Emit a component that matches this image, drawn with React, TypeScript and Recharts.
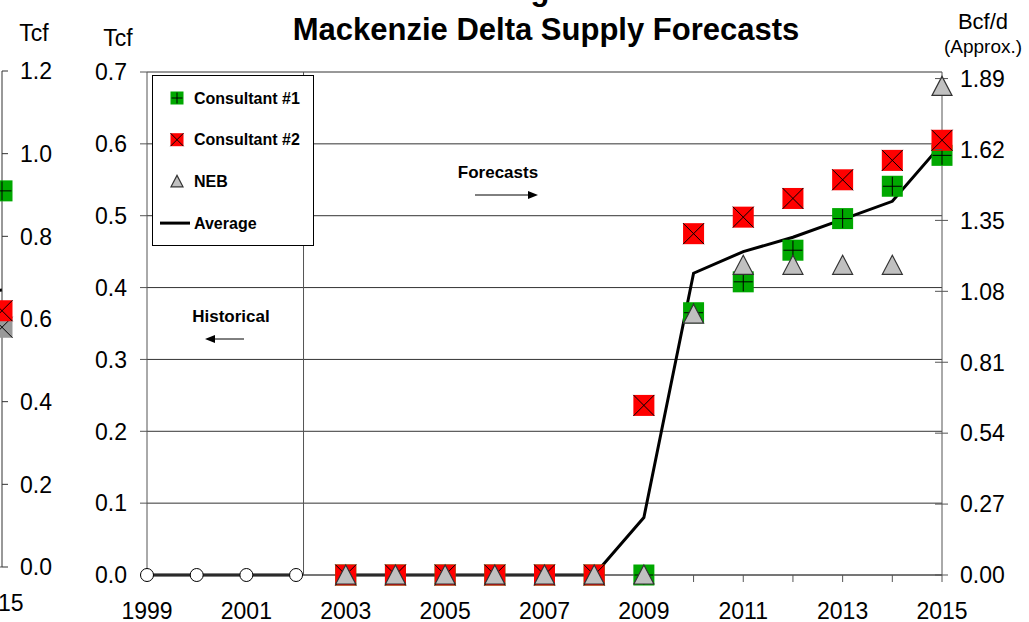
import React from "react";
import {
  CartesianGrid,
  ComposedChart,
  Customized,
  Legend,
  Line,
  ReferenceLine,
  XAxis,
  YAxis,
} from "recharts";

const FONT = '"Liberation Sans", Arial, Helvetica, sans-serif';
const GREEN = "#00a800";
const RED = "#ff0000";
const GREY = "#c0c0c0";
const AXIS = "#555";

// Tcf, one value per year (null = no point)
const years = [1999, 2000, 2001, 2002, 2003, 2004, 2005, 2006, 2007, 2008, 2009, 2010, 2011, 2012, 2013, 2014, 2015];
const historical = [0, 0, 0, 0, null, null, null, null, null, null, null, null, null, null, null, null, null];
const consultant1 = [null, null, null, null, 0, 0, 0, 0, 0, 0, 0, 0.365, 0.408, 0.452, 0.496, 0.541, 0.584];
const consultant2 = [null, null, null, null, 0, 0, 0, 0, 0, 0, 0.236, 0.475, 0.498, 0.524, 0.55, 0.577, 0.605];
const neb = [null, null, null, null, 0, 0, 0, 0, 0, 0, 0, 0.363, 0.431, 0.431, 0.431, 0.431, 0.68];
const average = [null, null, null, null, 0, 0, 0, 0, 0, 0, 0.08, 0.42, 0.45, 0.47, 0.495, 0.52, 0.6];

const yearLabels = [1999, 2001, 2003, 2005, 2007, 2009, 2011, 2013, 2015];
const tcfTicks = [0, 0.1, 0.2, 0.3, 0.4, 0.5, 0.6, 0.7];
const bcfTicks = [0, 0.27, 0.54, 0.81, 1.08, 1.35, 1.62, 1.89];

// right-hand edge of the neighbouring panel
const prevYears = [2014, 2015];
const prevConsultant1 = [null, 0.91];
const prevConsultant2 = [null, 0.62];
const prevNeb = [null, 0.58];
const prevAverage = [0.66, 0.67];
const prevTcfTicks = [0, 0.2, 0.4, 0.6, 0.8, 1.0, 1.2];

const data = years.map((year, i) => ({
  year,
  historical: historical[i],
  consultant1: consultant1[i],
  consultant2: consultant2[i],
  neb: neb[i],
  average: average[i],
}));

const prevData = prevYears.map((year, i) => ({
  year,
  consultant1: prevConsultant1[i],
  consultant2: prevConsultant2[i],
  neb: prevNeb[i],
  average: prevAverage[i],
}));

type Kind = "plus" | "cross" | "triangle" | "greyCross" | "circle";

function marker(kind: Kind, cx: number, cy: number, s: number) {
  const h = s / 2;
  if (kind === "plus") {
    return (
      <>
        <rect x={cx - h} y={cy - h} width={s} height={s} fill={GREEN} />
        <path d={`M${cx - h + 1},${cy}H${cx + h - 1}M${cx},${cy - h + 1}V${cy + h - 1}`} stroke="#000" strokeWidth={1} />
      </>
    );
  }
  if (kind === "cross" || kind === "greyCross") {
    return (
      <>
        <rect x={cx - h} y={cy - h} width={s} height={s} fill={kind === "cross" ? RED : "#999"} />
        <path d={`M${cx - h},${cy - h}L${cx + h},${cy + h}M${cx + h},${cy - h}L${cx - h},${cy + h}`} stroke="#000" strokeWidth={1} />
      </>
    );
  }
  if (kind === "triangle") {
    return (
      <path
        d={`M${cx},${cy - h}L${cx + h},${cy + h * 0.9}L${cx - h},${cy + h * 0.9}Z`}
        fill={GREY}
        stroke="#333"
        strokeWidth={1.2}
      />
    );
  }
  return <circle cx={cx} cy={cy} r={h} fill="#fff" stroke="#000" strokeWidth={1} />;
}

const dotFor = (kind: Kind, size: number) => (p: any) => {
  const key = `${kind}-${p.index}`;
  if (!Number.isFinite(p.cx) || !Number.isFinite(p.cy)) return <g key={key} />;
  return <g key={key}>{marker(kind, p.cx, p.cy, size)}</g>;
};

const YearTick = (shift: number) => (p: any) => {
  const v = p.payload?.value;
  if (!yearLabels.includes(v)) return <g />;
  return (
    <text x={p.x + shift} y={p.y} dy="0.71em" textAnchor="middle" fontFamily={FONT} fontSize={23} fill="#000">
      {v}
    </text>
  );
};

const LeftTick = (digits: number) => (p: any) => (
  <text x={p.x} y={p.y} dy="0.36em" textAnchor="end" fontFamily={FONT} fontSize={23} fill="#000">
    {Number(p.payload?.value).toFixed(digits)}
  </text>
);

// right axis ticks cross the axis line, so the inner half is drawn here
const RightTick = (digits: number, inner: number, gap: number) => (p: any) => (
  <g>
    {inner > 0 && <line x1={p.x - gap - inner} x2={p.x - gap} y1={p.y} y2={p.y} stroke={AXIS} />}
    <text x={p.x} y={p.y} dy="0.36em" textAnchor="start" fontFamily={FONT} fontSize={23} fill="#000">
      {Number(p.payload?.value).toFixed(digits)}
    </text>
  </g>
);

const legendItems: { label: string; kind: Kind | "line" }[] = [
  { label: "Consultant #1", kind: "plus" },
  { label: "Consultant #2", kind: "cross" },
  { label: "NEB", kind: "triangle" },
  { label: "Average", kind: "line" },
];

const LegendBox = () => (
  <svg width={162} height={171} style={{ display: "block" }}>
    <rect x={0.5} y={0.5} width={161} height={170} fill="#fff" stroke="#000" strokeWidth={1} />
    {legendItems.map((item, i) => {
      const y = 23 + i * 41.7;
      return (
        <g key={item.label}>
          {item.kind === "line" ? (
            <line x1={8} x2={38} y1={y} y2={y} stroke="#000" strokeWidth={3} />
          ) : (
            marker(item.kind, 25, y, item.kind === "triangle" ? 12 : 13)
          )}
          <text x={42} y={y} dy="0.36em" fontFamily={FONT} fontSize={16} fontWeight="bold" fill="#000">
            {item.label}
          </text>
        </g>
      );
    })}
  </svg>
);

const Arrow = ({ x1, x2, y }: { x1: number; x2: number; y: number }) => {
  const dir = x2 > x1 ? 1 : -1;
  return (
    <g>
      <line x1={x1} x2={x2 - dir * 8} y1={y} y2={y} stroke="#000" strokeWidth={1} />
      <path d={`M${x2},${y}L${x2 - dir * 10},${y - 4}L${x2 - dir * 10},${y + 4}Z`} fill="#000" />
    </g>
  );
};

const Annotations = () => (
  <g fontFamily={FONT} fill="#000">
    <text x={540} y={0} textAnchor="middle" fontSize={31} fontWeight="bold">g</text>
    <text x={546} y={40} textAnchor="middle" fontSize={31} fontWeight="bold">
      Mackenzie Delta Supply Forecasts
    </text>
    <text x={34} y={41} textAnchor="middle" fontSize={23}>Tcf</text>
    <text x={118} y={46} textAnchor="middle" fontSize={23}>Tcf</text>
    <text x={983} y={29} textAnchor="middle" fontSize={22}>Bcf/d</text>
    <text x={983} y={53} textAnchor="middle" fontSize={19}>(Approx.)</text>
    <text x={498} y={178} textAnchor="middle" fontSize={17} fontWeight="bold">Forecasts</text>
    <Arrow x1={475} x2={538} y={195} />
    <text x={231} y={322} textAnchor="middle" fontSize={17} fontWeight="bold">Historical</text>
    <Arrow x1={244} x2={205} y={339} />
  </g>
);

export default function App() {
  return (
    <div style={{ position: "relative", width: 1029, height: 622, overflow: "hidden", background: "#fff" }}>
      <style>{"body{margin:0}"}</style>
      <ComposedChart width={1029} height={622} data={data} margin={{ top: 72, right: 0, bottom: 0, left: 0 }}>
        <CartesianGrid yAxisId="tcf" vertical={false} stroke="#333" />
        <XAxis
          dataKey="year"
          type="number"
          domain={[1999, 2015]}
          ticks={years}
          interval={0}
          height={47}
          tickSize={7}
          tickMargin={21}
          stroke={AXIS}
          tick={YearTick(0)}
        />
        <YAxis
          yAxisId="tcf"
          orientation="left"
          width={147}
          domain={[0, 0.7]}
          ticks={tcfTicks}
          tickSize={7}
          tickMargin={13}
          stroke={AXIS}
          tick={LeftTick(1)}
        />
        <YAxis
          yAxisId="bcf"
          orientation="right"
          width={87}
          type="number"
          domain={[0, 1.915]}
          allowDataOverflow
          ticks={bcfTicks}
          interval={0}
          tickSize={6}
          tickMargin={12}
          stroke={AXIS}
          tick={RightTick(2, 7, 18)}
        />
        <ReferenceLine yAxisId="tcf" x={2002.15} stroke={AXIS} strokeWidth={1} />
        <Line yAxisId="tcf" dataKey="historical" stroke="#000" strokeWidth={3} dot={dotFor("circle", 13)} activeDot={false} isAnimationActive={false} legendType="none" />
        <Line yAxisId="tcf" dataKey="consultant1" stroke="none" dot={dotFor("plus", 21)} activeDot={false} isAnimationActive={false} legendType="none" />
        <Line yAxisId="tcf" dataKey="average" stroke="#000" strokeWidth={3} dot={false} activeDot={false} isAnimationActive={false} legendType="none" />
        <Line yAxisId="tcf" dataKey="consultant2" stroke="none" dot={dotFor("cross", 21)} activeDot={false} isAnimationActive={false} legendType="none" />
        <Line yAxisId="tcf" dataKey="neb" stroke="none" dot={dotFor("triangle", 20)} activeDot={false} isAnimationActive={false} legendType="none" />
        <Legend
          layout="vertical"
          align="center"
          verticalAlign="middle"
          content={() => <LegendBox />}
          wrapperStyle={{ left: 152, top: 75, width: 162, height: 171 }}
        />
        <Customized component={Annotations} />
      </ComposedChart>

      <div style={{ position: "absolute", left: -58, top: 0 }}>
        <ComposedChart width={120} height={622} data={prevData} margin={{ top: 71, right: 0, bottom: 0, left: 0 }}>
          <XAxis
            dataKey="year"
            type="number"
            domain={[2014, 2015]}
            ticks={[2015]}
            height={55}
            tickSize={7}
            tickMargin={21}
            stroke={AXIS}
            tickLine={false}
            tick={YearTick(-4)}
          />
          <YAxis
            yAxisId="tcf"
            orientation="right"
            width={60}
            domain={[0, 1.2]}
            ticks={prevTcfTicks}
            tickSize={6}
            tickMargin={12}
            stroke="#333"
            tick={RightTick(1, 0, 18)}
          />
          <Line yAxisId="tcf" dataKey="average" stroke="#000" strokeWidth={3} dot={false} activeDot={false} isAnimationActive={false} />
          <Line yAxisId="tcf" dataKey="consultant1" stroke="none" dot={dotFor("plus", 21)} activeDot={false} isAnimationActive={false} />
          <Line yAxisId="tcf" dataKey="neb" stroke="none" dot={dotFor("greyCross", 21)} activeDot={false} isAnimationActive={false} />
          <Line yAxisId="tcf" dataKey="consultant2" stroke="none" dot={dotFor("cross", 21)} activeDot={false} isAnimationActive={false} />
        </ComposedChart>
      </div>
    </div>
  );
}
